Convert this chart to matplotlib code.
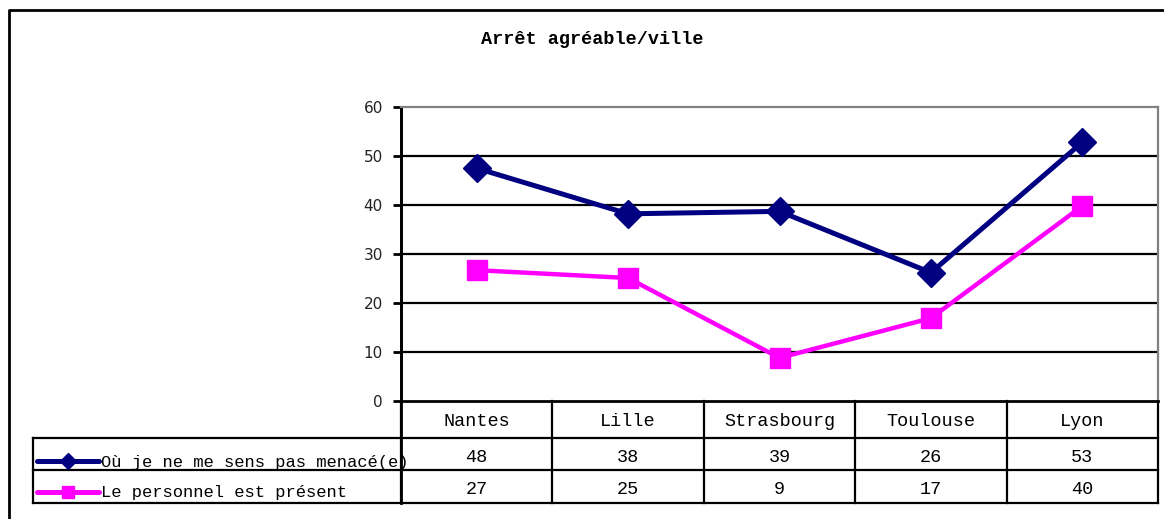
import matplotlib
matplotlib.use("Agg")
import matplotlib.pyplot as plt
import matplotlib.transforms as mtransforms

# data
villes = ['Nantes', 'Lille', 'Strasbourg', 'Toulouse', 'Lyon']
serie_menace = [47.5, 38.2, 38.7, 26.2, 52.8]
serie_personnel = [26.7, 25.1, 8.8, 16.9, 39.8]
label_menace = 'Où je ne me sens pas menacé(e)'
label_personnel = 'Le personnel est présent'
y_ticks = [0, 10, 20, 30, 40, 50, 60]

W, H = 1164, 519
BLUE = '#000080'
PINK = '#FF00FF'
MONO = ['Liberation Mono', 'DejaVu Sans Mono']

fig = plt.figure(figsize=(W / 100, H / 100), dpi=100)

# background axes in pixel coords for the frame and table grid
bg = fig.add_axes([0, 0, 1, 1])
bg.set_xlim(0, W)
bg.set_ylim(H, 0)
bg.axis('off')

# plot area
L, R, T, B = 401, 1158, 107, 401
ax = fig.add_axes([L / W, 1 - B / H, (R - L) / W, (B - T) / H])
ax.patch.set_alpha(0)

x = list(range(len(villes)))
ax.plot(x, serie_menace, '-D', color=BLUE, lw=3.6, ms=14, zorder=3)
ax.plot(x, serie_personnel, '-s', color=PINK, lw=3.2, ms=15, zorder=3)

ax.set_xlim(-0.5, len(villes) - 0.5)
ax.set_ylim(0, 60)
ax.set_yticks(y_ticks)
ax.set_xticks([])
for v in y_ticks[1:-1]:
    ax.axhline(v, color='black', lw=1.6, zorder=1)
ax.spines['left'].set_linewidth(2)
ax.spines['bottom'].set_linewidth(2)
ax.spines['top'].set_color('#808080')
ax.spines['right'].set_color('#808080')
ax.spines['top'].set_linewidth(1.6)
ax.spines['right'].set_linewidth(1.6)
ax.tick_params(axis='y', length=6, width=2, pad=7, labelsize=11, labelcolor='#222222')
for t in ax.get_yticklabels():
    t.set_fontfamily('DejaVu Sans')

# outer frame (cropped at right and bottom)
bg.plot([9, 9, W + 5], [H + 5, 10, 10], color='black', lw=2)

# title
bg.text(592, 40, 'Arrêt agréable/ville', ha='center', va='center',
        fontsize=13.3, fontweight='bold', family=MONO)

# table grid
lw_t = 1.6
col_edges = [i - 0.5 for i in range(len(villes) + 1)]
tr = mtransforms.blended_transform_factory(ax.transData, bg.transData)
for e in col_edges:
    ax.plot([e, e], [401, 503], color='black', lw=lw_t, transform=tr, clip_on=False)
ax.plot([-0.5, -0.5], [107, 503], color='black', lw=2, transform=tr, clip_on=False)
for yy in [438, 470, 503]:
    bg.plot([33, R], [yy, yy], color='black', lw=lw_t)
bg.plot([33, 33], [438, 503], color='black', lw=lw_t)

# header and values
for i, v in enumerate(villes):
    ax.text(i, 421, v, transform=tr, ha='center', va='center', fontsize=13.3, family=MONO)
    ax.text(i, 458, f'{serie_menace[i]:.0f}', transform=tr, ha='center', va='center',
            fontsize=13.3, family=MONO)
    ax.text(i, 490, f'{serie_personnel[i]:.0f}', transform=tr, ha='center', va='center',
            fontsize=13.3, family=MONO)

# legend keys inside the table
bg.plot([37, 99], [461, 461], color=BLUE, lw=3.6, solid_capstyle='round')
bg.plot([68], [461], 'D', color=BLUE, ms=8)
bg.text(101, 462, label_menace, ha='left', va='center', fontsize=12.3, family=MONO)
bg.plot([37, 99], [492, 492], color=PINK, lw=3.6, solid_capstyle='round')
bg.plot([68], [492], 's', color=PINK, ms=8)
bg.text(101, 493, label_personnel, ha='left', va='center', fontsize=12.3, family=MONO)

fig.savefig('out.png', dpi=100)
